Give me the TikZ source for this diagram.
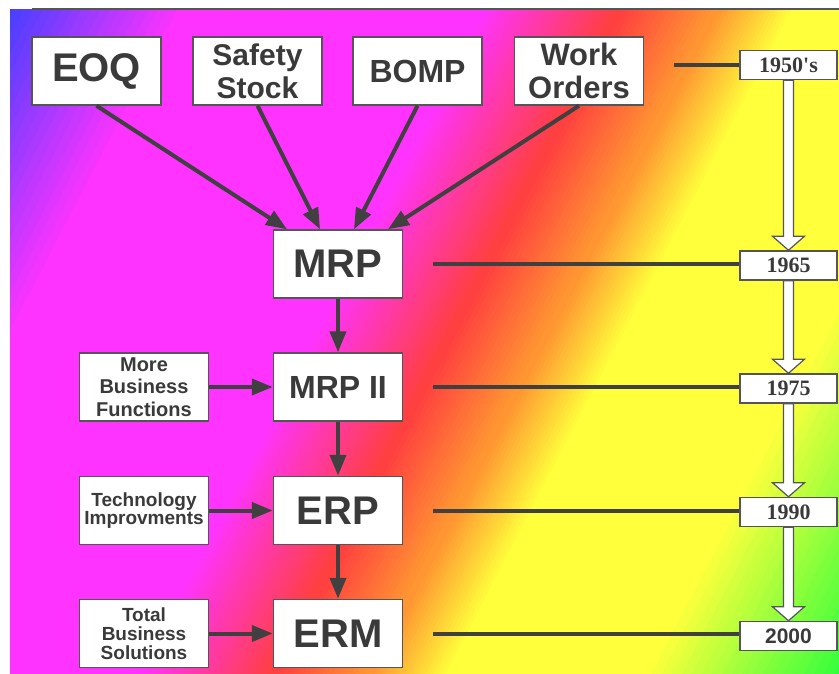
\documentclass[tikz,border=0pt]{standalone}
\usepackage{fontspec}
\setmainfont{Liberation Sans}
\newfontfamily\yearfont{Liberation Serif}
\usepackage{tikz}
\usetikzlibrary{arrows.meta}
\definecolor{gblue}{RGB}{60, 64, 255}
\definecolor{gmag}{RGB}{255, 51, 255}
\definecolor{gred}{RGB}{255, 64, 64}
\definecolor{gorange}{RGB}{255, 150, 50}
\definecolor{gyellow}{RGB}{255, 255, 60}
\definecolor{ggreen}{RGB}{50, 255, 60}
\definecolor{lgray}{RGB}{64, 64, 64}
\definecolor{bgray}{RGB}{85, 85, 85}
\definecolor{tgray}{RGB}{58, 58, 58}
\tikzset{box/.style = {draw=bgray, line width=1.5pt, fill=white, text=tgray,
                       minimum width=129pt, minimum height=68pt, inner sep=0pt,
                       align=center},
         fsize/.style 2 args = {font=\bfseries\fontsize{#1}{#2}\selectfont},
         yearbox/.style = {draw=bgray, line width=1.5pt, fill=white, text=tgray,
                           minimum width=97pt, minimum height=29pt, inner sep=0pt,
                           font=\yearfont\bfseries\fontsize{22}{22}\selectfont},
         flow/.style = {draw=lgray, line width=4pt,
                        -{Triangle[length=21pt, width=16pt]}},
         link/.style = {draw=lgray, line width=4pt},
         hollow/.style = {draw=bgray, line width=1.2pt, fill=white}}

\begin{document}
\begin{tikzpicture}[x=1pt, y=-1pt]
  \useasboundingbox (0, 0) rectangle (839, 674);

  % rainbow background
  \begin{scope}
    \clip (10, 10) rectangle (839, 674);
    \begin{scope}[rotate=-27.5]
      \fill [gblue] (-300, -1500) rectangle (0.5, 1500);
      \foreach \ta/\tb/\ca/\cb in {0/170/gblue/gmag, 170/430/gmag/gmag,
                                   430/555/gmag/gred, 555/640/gred/gorange,
                                   640/710/gorange/gyellow, 710/880/gyellow/gyellow,
                                   880/1060/gyellow/ggreen} {
        \foreach \i in {0, ..., 19} {
          \pgfmathsetmacro{\lo}{\ta + (\tb - \ta) * \i / 20}
          \pgfmathsetmacro{\hi}{\ta + (\tb - \ta) * (\i + 1) / 20 + 0.6}
          \pgfmathtruncatemacro{\p}{100 * \i / 19}
          \fill [\cb!\p!\ca] (\lo, -1500) rectangle (\hi, 1500);
        }
      }
      \fill [ggreen] (1060, -1500) rectangle (1300, 1500);
    \end{scope}
  \end{scope}
  \draw [bgray, line width=1.5pt] (32, 9) -- (839, 9);

  \node [box, fsize={40}{40}] (eoq) at (96.5, 71) {EOQ};
  \node [box, fsize={30}{33}] (safety) at (257.5, 71) {Safety\\Stock};
  \node [box, fsize={32}{33}] (bomp) at (417.5, 71) {BOMP};
  \node [box, fsize={31}{33}] (work) at (579, 71) {Work\\Orders};

  \node [box, fsize={40}{40}] (mrp) at (338, 264) {MRP};
  \node [box, fsize={32}{33}] (mrpii) at (338, 387) {MRP II};
  \node [box, fsize={40}{40}] (erp) at (338, 510.5) {ERP};
  \node [box, fsize={40}{40}] (erm) at (338, 633.5) {ERM};

  \node [box, fsize={20}{22.5}] (more) at (144, 387) {More\\Business\\Functions};
  \node [box, fsize={19}{17}] (tech) at (144, 510.5) {Technology\\Improvments};
  \node [box, fsize={19}{19}] (total) at (144, 633.5) {Total\\Business\\Solutions};

  \node [yearbox] (y50) at (788.5, 65) {1950's};
  \node [yearbox] (y65) at (788.5, 265.5) {1965};
  \node [yearbox] (y75) at (788.5, 388.5) {1975};
  \node [yearbox] (y90) at (788.5, 512) {1990};
  \node [yearbox, fsize={21}{21}] (y00) at (788.5, 636) {2000};

  \draw [flow] (eoq.south) -- ([xshift=-51pt]mrp.north);
  \draw [flow] (safety.south) -- ([xshift=-18pt]mrp.north);
  \draw [flow] (bomp.south) -- ([xshift=16pt]mrp.north);
  \draw [flow] (work.south) -- ([xshift=50pt]mrp.north);

  \draw [flow] (mrp) -- (mrpii);
  \draw [flow] (mrpii) -- (erp);
  \draw [flow] (erp) -- (erm);
  \draw [flow] (more) -- (mrpii);
  \draw [flow] (tech) -- (erp);
  \draw [flow] (total) -- (erm);

  \draw [link, shorten <=30pt] (work.east |- y50.west) -- (y50.west);
  \foreach \m/\y in {mrp/y65, mrpii/y75, erp/y90, erm/y00}
    \draw [link, shorten <=30pt] (\m.east) -- (\m.east -| \y.west);

  \foreach \a/\b in {y50/y65, y65/y75, y75/y90, y90/y00}
    \draw [hollow] ([xshift=-5pt]\a.south) -- ([xshift=-5pt, yshift=14pt]\b.north)
      -- ([xshift=-16pt, yshift=14pt]\b.north) -- (\b.north)
      -- ([xshift=16pt, yshift=14pt]\b.north) -- ([xshift=5pt, yshift=14pt]\b.north)
      -- ([xshift=5pt]\a.south) -- cycle;
\end{tikzpicture}
\end{document}
